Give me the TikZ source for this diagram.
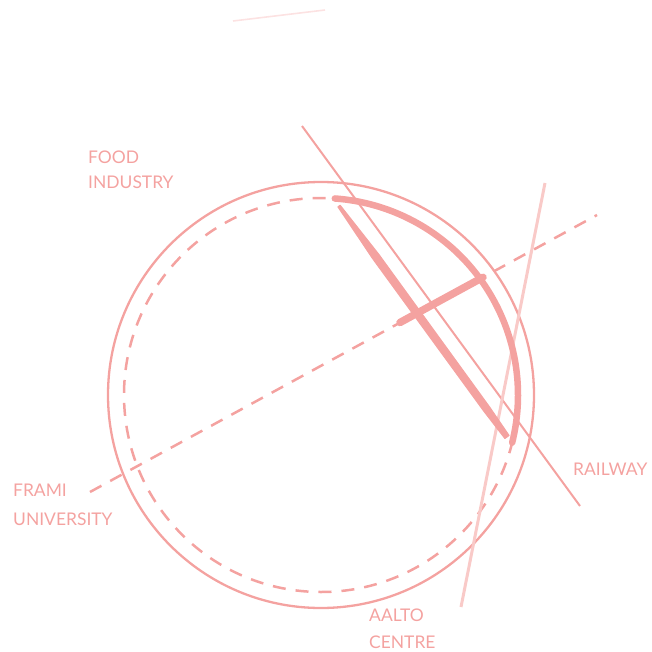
\documentclass[tikz,border=0pt]{standalone}
\usepackage{fontspec}
\setmainfont{Lato}
\usetikzlibrary{calc}
\definecolor{pk}{HTML}{F4A2A0}
\definecolor{pklight}{HTML}{F9CAC8}
\definecolor{pkfaint}{HTML}{FCE2E2}
\definecolor{pktext}{HTML}{F4A2A0}
\tikzset{
  lbl/.style={anchor=base west, inner sep=0pt, text=pktext, font=\fontsize{17.5}{17.5}\selectfont},
  thinpk/.style={draw=pk, line width=2.3bp},
  dashpk/.style={draw=pk, line width=2.5bp, dash pattern=on 13bp off 10bp},
  heavypk/.style={draw=pk, line width=6.5bp, line cap=round},
}
\begin{document}
\begin{tikzpicture}[x=1bp, y=-1bp]
\useasboundingbox (0,0) rectangle (652,652);
\coordinate (c) at (321,395);
% faint top line
\coordinate (f1) at (233,21);
\coordinate (f2) at (325,10);
\draw[pkfaint, line width=1.6bp] (f1) -- (f2);
% outer circle
\draw[thinpk] (c) circle (213);
% dashed inner circle
\draw[dashpk] (c) circle (197);
% dashed diagonal (Frami university)
\coordinate (d1) at (90,492);
\coordinate (d2) at (597,215);
\draw[dashpk] (d1) -- (d2);
% railway line
\coordinate (r1) at (302,126);
\coordinate (r2) at (580,506);
\draw[pk, line width=2bp] (r1) -- (r2);
% Aalto line
\coordinate (a1) at (545,183);
\coordinate (a2) at (461,607);
\draw[pklight, line width=3bp] (a1) -- (a2);
% thick arc
\draw[heavypk] ([shift={(321,395)}]-86:197) arc[start angle=-86, end angle=14, radius=197];
% tapered chord
\coordinate (ch1) at (339,206);
\coordinate (ch2) at (507,437);
\coordinate (q1) at ($(ch1)!0.22!(ch2)$);
\coordinate (q2) at ($(ch1)!0.88!(ch2)$);
\filldraw[pk, line width=1bp, line join=round]
  ($(ch1)!1.4bp!90:(ch2)$) -- ($(q1)!3.8bp!90:(ch2)$) -- ($(q2)!3.6bp!90:(ch2)$) -- ($(ch2)!2.6bp!-90:(ch1)$)
  -- ($(ch2)!2.6bp!90:(ch1)$) -- ($(q2)!3.6bp!-90:(ch2)$) -- ($(q1)!3.8bp!-90:(ch2)$) -- ($(ch1)!1.4bp!-90:(ch2)$) -- cycle;
% thick segment on dashed line
\coordinate (s1) at (400,322.5);
\coordinate (s2) at (483,277.3);
\draw[pk, line width=7.5bp, line cap=round] (s1) -- (s2);
% labels
\node[lbl] (food) at (88,163) {FOOD};
\node[lbl] (industry) at (88,188) {INDUSTRY};
\node[lbl] (frami) at (13,496) {FRAMI};
\node[lbl] (univ) at (13,525) {UNIVERSITY};
\node[lbl] (rail) at (573,475) {RAILWAY};
\node[lbl] (aalto) at (369,621) {AALTO};
\node[lbl] (centre) at (369,648) {CENTRE};
\end{tikzpicture}
\end{document}
